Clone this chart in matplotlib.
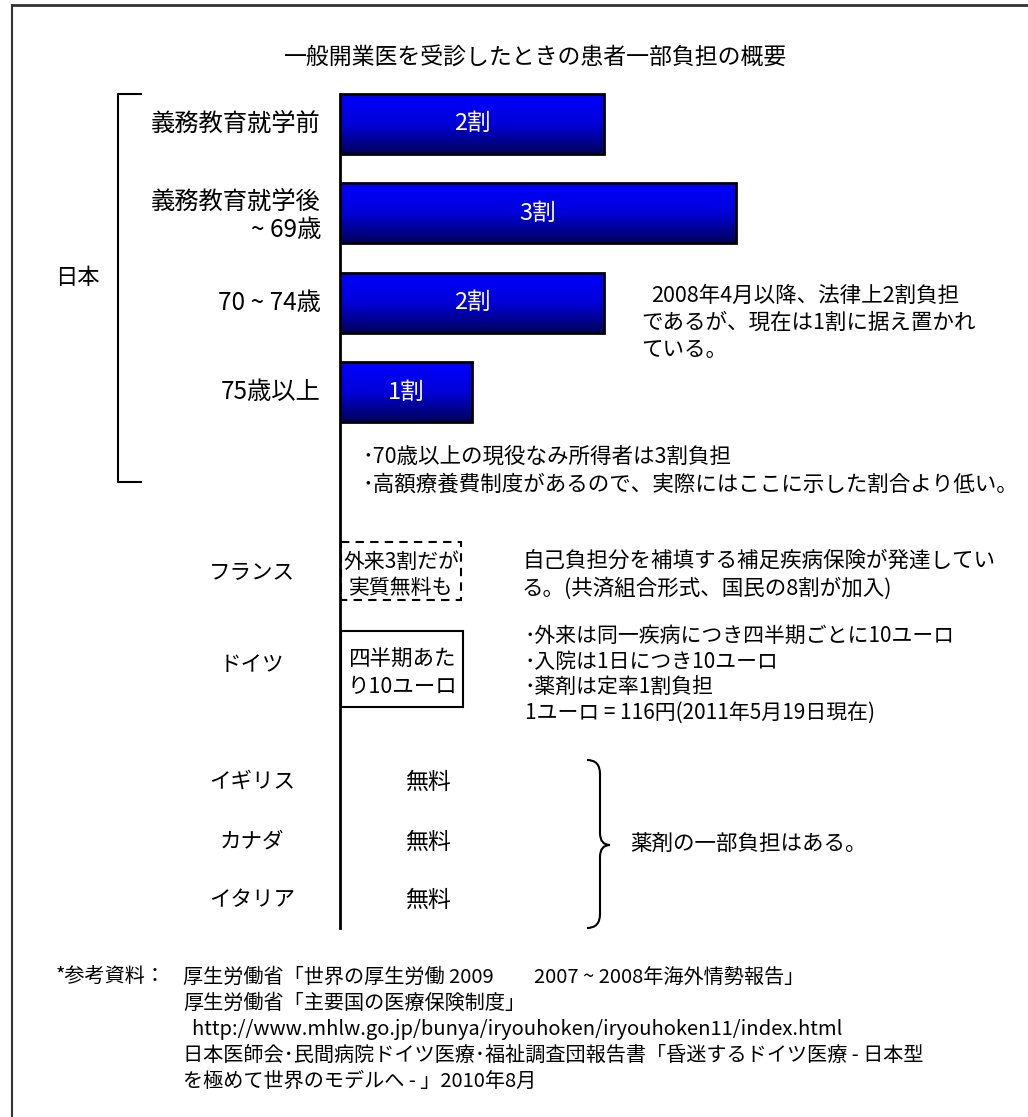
import numpy as np
import matplotlib
matplotlib.use("Agg")
import matplotlib.pyplot as plt
from matplotlib.path import Path
from matplotlib.patches import PathPatch, Rectangle
from matplotlib.transforms import blended_transform_factory
from matplotlib.colors import LinearSegmentedColormap

plt.rcParams["font.family"] = ["Noto Sans CJK JP", "DejaVu Sans"]

TITLE = "一般開業医を受診したときの患者一部負担の概要"

# --- Japan: patient share (割) by age group ---
jp_groups = ["義務教育就学前", "義務教育就学後\n~ 69歳", "70 ~ 74歳", "75歳以上"]
jp_share = [2, 3, 2, 1]
jp_share_text = ["2割", "3割", "2割", "1割"]
jp_note = ["2008年4月以降、法律上2割負担", "であるが、現在は1割に据え置かれ", "ている。"]
jp_foot = ["･70歳以上の現役なみ所得者は3割負担",
           "･高額療養費制度があるので、実際にはここに示した割合より低い。"]

# --- other countries ---
countries = ["フランス", "ドイツ", "イギリス", "カナダ", "イタリア"]
country_box = ["外来3割だが\n実質無料も", "四半期あた\nり10ユーロ", "無料", "無料", "無料"]
fr_note = ["自己負担分を補填する補足疾病保険が発達してい",
           "る。(共済組合形式、国民の8割が加入)"]
de_note = ["･外来は同一疾病につき四半期ごとに10ユーロ",
           "･入院は1日につき10ユーロ",
           "･薬剤は定率1割負担",
           "1ユーロ = 116円(2011年5月19日現在)"]
free_note = "薬剤の一部負担はある。"

refs_head = "*参考資料："
refs = ["厚生労働省「世界の厚生労働 2009　　2007 ~ 2008年海外情勢報告」",
        "厚生労働省「主要国の医療保険制度」",
        "  http://www.mhlw.go.jp/bunya/iryouhoken/iryouhoken11/index.html",
        "日本医師会･民間病院ドイツ医療･福祉調査団報告書「昏迷するドイツ医療 - 日本型",
        "を極めて世界のモデルへ - 」2010年8月"]

# layout (pixels, top-left origin)
W, H = 1028, 1117
AXIS_X = 340
country_y = [573, 665, 782, 842, 900]

fig = plt.figure(figsize=(W / 100, H / 100), dpi=100)
ax = fig.add_axes([0, 0, 1, 1])
ax.set_xlim(0, W)
ax.set_ylim(H, 0)
ax.axis("off")

# bar axes: x in 割, y in category index
bx = fig.add_axes([AXIS_X / W, 1 - 437 / H, 660 / W, (437 - 79) / H])
bx.patch.set_visible(False)
bx.axis("off")
ypos = np.arange(len(jp_groups))
bars = bx.barh(ypos, jp_share, height=0.67, left=0, color="none",
               edgecolor="black", linewidth=2, zorder=3)
grad = np.linspace(0, 1, 256).reshape(-1, 1)
cmap = LinearSegmentedColormap.from_list("bluegrad", ["#0000ff", "#0000d8", "#000058"])
for b, txt in zip(bars, jp_share_text):
    x0, y0, w, h = b.get_x(), b.get_y(), b.get_width(), b.get_height()
    im = bx.imshow(grad, cmap=cmap, aspect="auto", origin="upper",
                   extent=(x0, x0 + w, y0 + h, y0), zorder=2)
    im.set_clip_path(b)
    bx.text(x0 + w / 2, y0 + h / 2, txt, color="white", fontsize=17,
            ha="center", va="center", zorder=4)
bx.set_xlim(0, 5)
bx.set_ylim(3.5, -0.5)

# frame
ax.plot([12, W], [5, 5], color="#333333", lw=2)
ax.plot([12, 12], [5, H], color="#333333", lw=1.5)

ax.text(W / 2 + 22, 57, TITLE, fontsize=16.5, ha="center", va="center")

# vertical axis line
ax.plot([AXIS_X, AXIS_X], [94, 928], color="black", lw=2, zorder=1)

# Japan bracket and labels
ax.plot([141, 118, 118, 141], [94, 94, 482, 482], color="black", lw=1.5)
ax.text(77, 277, "日本", fontsize=16, ha="center", va="center")
lab_tr = blended_transform_factory(ax.transData, bx.transData)
for i, g in enumerate(jp_groups):
    ax.text(321, ypos[i] + (0.03 if "\n" in g else 0), g, transform=lab_tr,
            fontsize=17.5, ha="right", va="center", multialignment="right",
            linespacing=1.1)

for k, line in enumerate(jp_note):
    ax.text(641 + (10 if k == 0 else 0), 296 + 27 * k, line, fontsize=15.5, va="center")
for k, line in enumerate(jp_foot):
    ax.text(362, 457 + 28 * k, line, fontsize=15.5, va="center")

# country labels
for name, y in zip(countries, country_y):
    ax.text(252, y, name, fontsize=15.5, ha="center", va="center")

# France dashed box, Germany solid box
ax.add_patch(Rectangle((341, 542), 120, 58, fill=False, edgecolor="black",
                       lw=1.5, linestyle=(0, (4, 3))))
ax.add_patch(Rectangle((341, 631), 122, 76, fill=False, edgecolor="black", lw=1.5))
ax.text(401, 575, country_box[0], fontsize=15, ha="center", va="center", linespacing=1.25)
ax.text(402, 673, country_box[1], fontsize=15.5, ha="center", va="center", linespacing=1.3)
for txt, y in zip(country_box[2:], country_y[2:]):
    ax.text(428, y, txt, fontsize=16.5, ha="center", va="center")

for k, line in enumerate(fr_note):
    ax.text(522, 561 + 28 * k, line, fontsize=15.5, va="center")
for k, line in enumerate(de_note):
    ax.text(525, 636 + 25.5 * k, line, fontsize=15, va="center")

# curly brace for UK / Canada / Italy
bt, bb, bm = 760, 928, 845
verts = [(587, bt), (600, bt), (600, bt + 14), (600, bm - 12), (600, bm), (610, bm),
         (600, bm), (600, bm + 12), (600, bb - 14), (600, bb), (587, bb)]
codes = [Path.MOVETO, Path.CURVE3, Path.CURVE3, Path.LINETO, Path.CURVE3, Path.CURVE3,
         Path.CURVE3, Path.CURVE3, Path.LINETO, Path.CURVE3, Path.CURVE3]
ax.add_patch(PathPatch(Path(verts, codes), fill=False, edgecolor="black", lw=1.5))
ax.text(630, bm, free_note, fontsize=15.5, va="center")

# references
ax.text(56, 977, refs_head, fontsize=14.5, va="center")
for k, line in enumerate(refs):
    ax.text(183, 977 + 26 * k, line, fontsize=14.5, va="center")

fig.savefig("out.png", dpi=100)
